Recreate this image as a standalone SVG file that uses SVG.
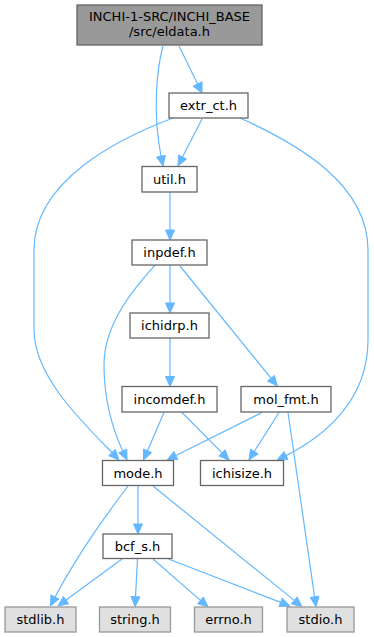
<svg xmlns="http://www.w3.org/2000/svg" width="374" height="637" viewBox="0 0 374 637">
<style>
.n rect{fill:#ffffff;stroke:#666666;stroke-width:1.3}
.top rect{fill:#999999;stroke:#666666;stroke-width:1.3}
.sys rect{fill:#e0e0e0;stroke:#999999;stroke-width:1.3}
text{font-family:"DejaVu Sans","Liberation Sans",sans-serif;font-size:13px;fill:#000000;text-anchor:middle}
.e path{fill:none;stroke:#63b8ff;stroke-width:1.2}
.e polygon{fill:#63b8ff;stroke:#63b8ff;stroke-width:1}
</style>
<rect width="374" height="637" fill="#ffffff"/>
<g class="e" id="edges">
<path d="M163,46 C156,72 153,115 161,156"/><polygon points="163,166 165.4,155.3 156.6,157.1"/>
<path d="M179,46 L197.6,84"/><polygon points="202,93 202.1,81.8 193.1,86.2"/>
<path d="M202,119 L182.5,157"/><polygon points="178,166 186.5,159.1 178.5,155.1"/>
<path d="M173,118 C120,138 34,180 34,250 L34,330 C34,375 80,420 112,452.5"/><polygon points="119,460 115.2,449.3 108.8,455.7"/>
<path d="M240,118 C300,145 368,185 368,250 L368,340 C368,400 325,436 286,455.6"/><polygon points="277,460 288,459.6 284,451.5"/>
<path d="M170,192 L170,230"/><polygon points="170,240 174.5,230 165.5,230"/>
<path d="M170,265 L170,303"/><polygon points="170,313 174.5,303 165.5,303"/>
<path d="M155,265 C140,282 104,320 104,365 C104,405 114,432 122.7,451"/><polygon points="127,460 126.8,449.1 118.7,452.9"/>
<path d="M180,266 L271,378.2"/><polygon points="277.3,386 274.5,375.4 267.5,381.1"/>
<path d="M170,338 L170,376.5"/><polygon points="170,386.5 174.5,376.5 165.5,376.5"/>
<path d="M164,412.5 L147.5,450.8"/><polygon points="143.5,460 151.6,452.6 143.4,449"/>
<path d="M182,412.5 L222,452.9"/><polygon points="229,460 225.2,449.7 218.8,456"/>
<path d="M262,412.5 L175.9,455.5"/><polygon points="167,460 177.9,459.5 173.9,451.5"/>
<path d="M279,412.5 L254.3,451.5"/><polygon points="249,460 258.1,453.9 250.5,449.1"/>
<path d="M288,412.5 L314.6,596.8"/><polygon points="316,606.7 319,596.2 310.1,597.4"/>
<path d="M138,486 L138,524"/><polygon points="138,534 142.5,524 133.5,524"/>
<path d="M128,486 C110,510 80,550 55,597"/><polygon points="50.3,606 59,599.1 51,594.9"/>
<path d="M153,486 L294.2,600.4"/><polygon points="302,606.7 297.1,596.9 291.4,603.9"/>
<path d="M122,559 L66.1,600.1"/><polygon points="58,606 68.7,603.7 63.4,596.5"/>
<path d="M137.5,559 L135.5,596.7"/><polygon points="135,606.7 140,596.9 131,596.5"/>
<path d="M153,559 L200.5,600.4"/><polygon points="208,606.7 203.4,597 197.5,603.8"/>
<path d="M168.5,559 L280.7,602.4"/><polygon points="290,606 282.3,598.2 279,606.6"/>
</g>
<g class="top" id="node-eldata"><rect x="77" y="5" width="185" height="40"/><text x="169.5" y="21">INCHI-1-SRC/INCHI_BASE</text><text x="169.5" y="36">/src/eldata.h</text></g>
<g class="n" id="node-extr_ct"><rect x="169" y="93" width="79" height="25"/><text x="208.5" y="110">extr_ct.h</text></g>
<g class="n" id="node-util"><rect x="142" y="166.5" width="55" height="25.5"/><text x="169.5" y="184">util.h</text></g>
<g class="n" id="node-inpdef"><rect x="132" y="240" width="75" height="25"/><text x="169.5" y="257">inpdef.h</text></g>
<g class="n" id="node-ichidrp"><rect x="130" y="313" width="79" height="25"/><text x="169.5" y="330">ichidrp.h</text></g>
<g class="n" id="node-incomdef"><rect x="122" y="386.5" width="95" height="25.5"/><text x="169.5" y="404">incomdef.h</text></g>
<g class="n" id="node-mol_fmt"><rect x="241" y="386.5" width="90" height="25.5"/><text x="286" y="404">mol_fmt.h</text></g>
<g class="n" id="node-mode"><rect x="102.5" y="460.5" width="71" height="25"/><text x="138" y="477.5">mode.h</text></g>
<g class="n" id="node-ichisize"><rect x="200.5" y="460.5" width="83" height="25"/><text x="242" y="477.5">ichisize.h</text></g>
<g class="n" id="node-bcf_s"><rect x="103" y="534" width="69" height="24.5"/><text x="137.5" y="550.5">bcf_s.h</text></g>
<g class="sys" id="node-stdlib"><rect x="5" y="607" width="71" height="25"/><text x="40.5" y="624">stdlib.h</text></g>
<g class="sys" id="node-string"><rect x="99.5" y="607" width="71" height="25"/><text x="135" y="624">string.h</text></g>
<g class="sys" id="node-errno"><rect x="194.5" y="607" width="68" height="25"/><text x="228.5" y="624">errno.h</text></g>
<g class="sys" id="node-stdio"><rect x="287" y="607" width="67" height="25"/><text x="320.5" y="624">stdio.h</text></g>
</svg>
